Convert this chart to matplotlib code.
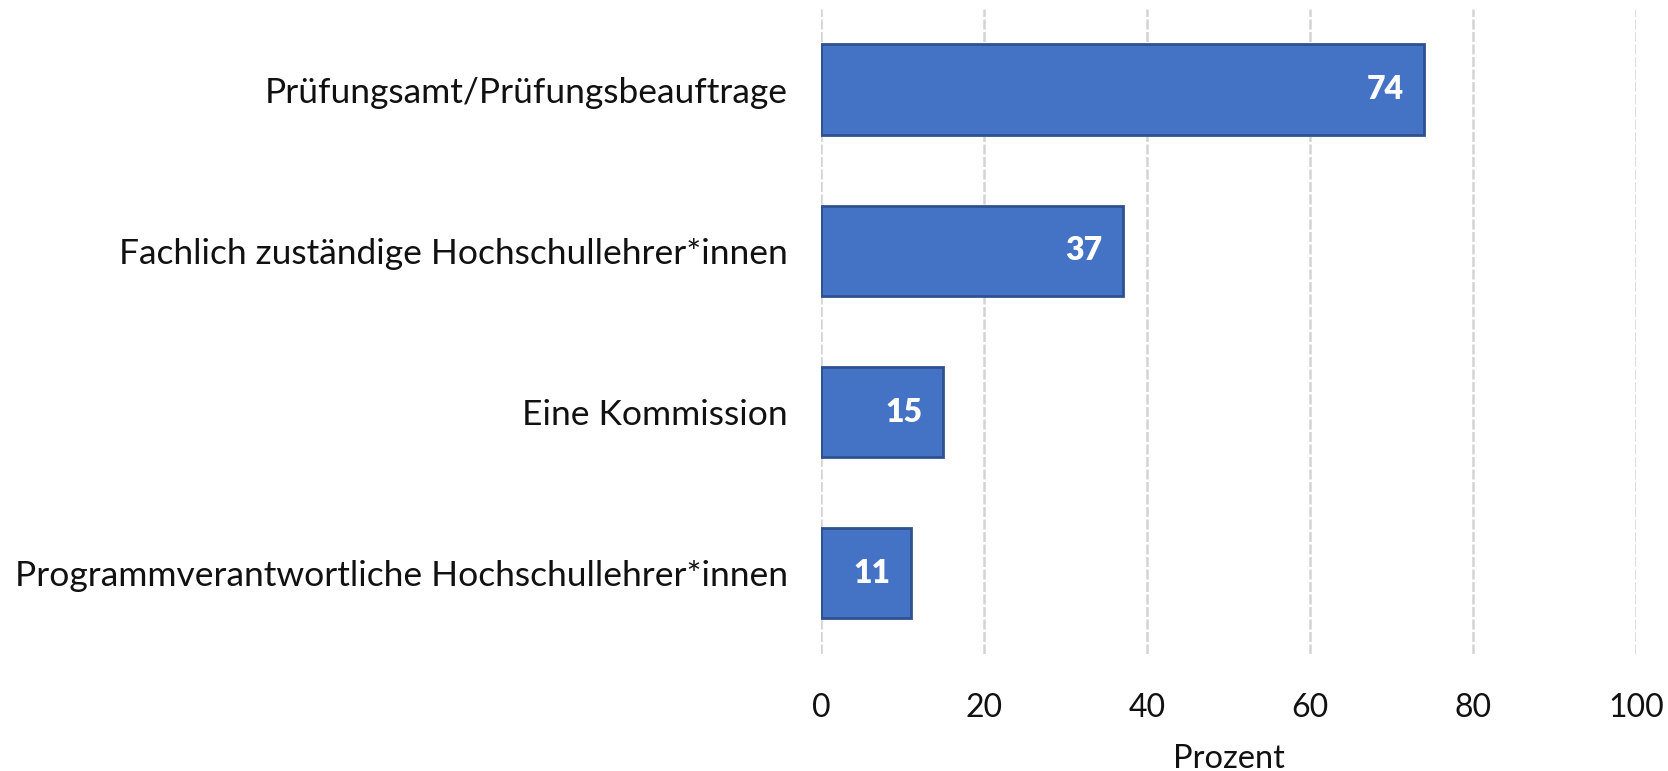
import matplotlib.pyplot as plt
import numpy as np

# data
categories = ['Prüfungsamt/Prüfungsbeauftrage',
              'Fachlich zuständige Hochschullehrer*innen',
              'Eine Kommission',
              'Programmverantwortliche Hochschullehrer*innen']
values = [74, 37, 15, 11]
x_ticks = [0, 20, 40, 60, 80, 100]

plt.rcParams['font.family'] = ['Lato', 'DejaVu Sans']

fig = plt.figure(figsize=(16.68, 7.71), dpi=100)
ax = fig.add_axes([0.4922, 0.1518, 0.4886, 0.8365])

y = np.arange(len(categories))
ax.barh(y, values, height=0.56, color='#4472C4', edgecolor='#2F528F', linewidth=2, zorder=3)

for yi, v in zip(y, values):
    ax.text(v - 2.5, yi, str(v), ha='right', va='center', color='white',
            fontsize=23, fontweight='heavy', zorder=4)

ax.set_ylim(3.5, -0.5)
ax.set_xlim(0, 100)
ax.set_yticks(y)
ax.set_yticklabels(categories, fontsize=25.5, color='#111111')
ax.set_xticks(x_ticks)
ax.set_xticklabels([str(t) for t in x_ticks], fontsize=23, color='#111111')
ax.tick_params(axis='both', length=0)
ax.tick_params(axis='y', pad=24)
ax.tick_params(axis='x', pad=28)

ax.grid(axis='x', color='#d4d4d4', linewidth=1.8, linestyle=(0, (4, 1)), zorder=0)
for s in ax.spines.values():
    s.set_visible(False)

ax.set_xlabel('Prozent', fontsize=23.5, color='#111111', labelpad=15)

plt.savefig('out.png', dpi=100)
